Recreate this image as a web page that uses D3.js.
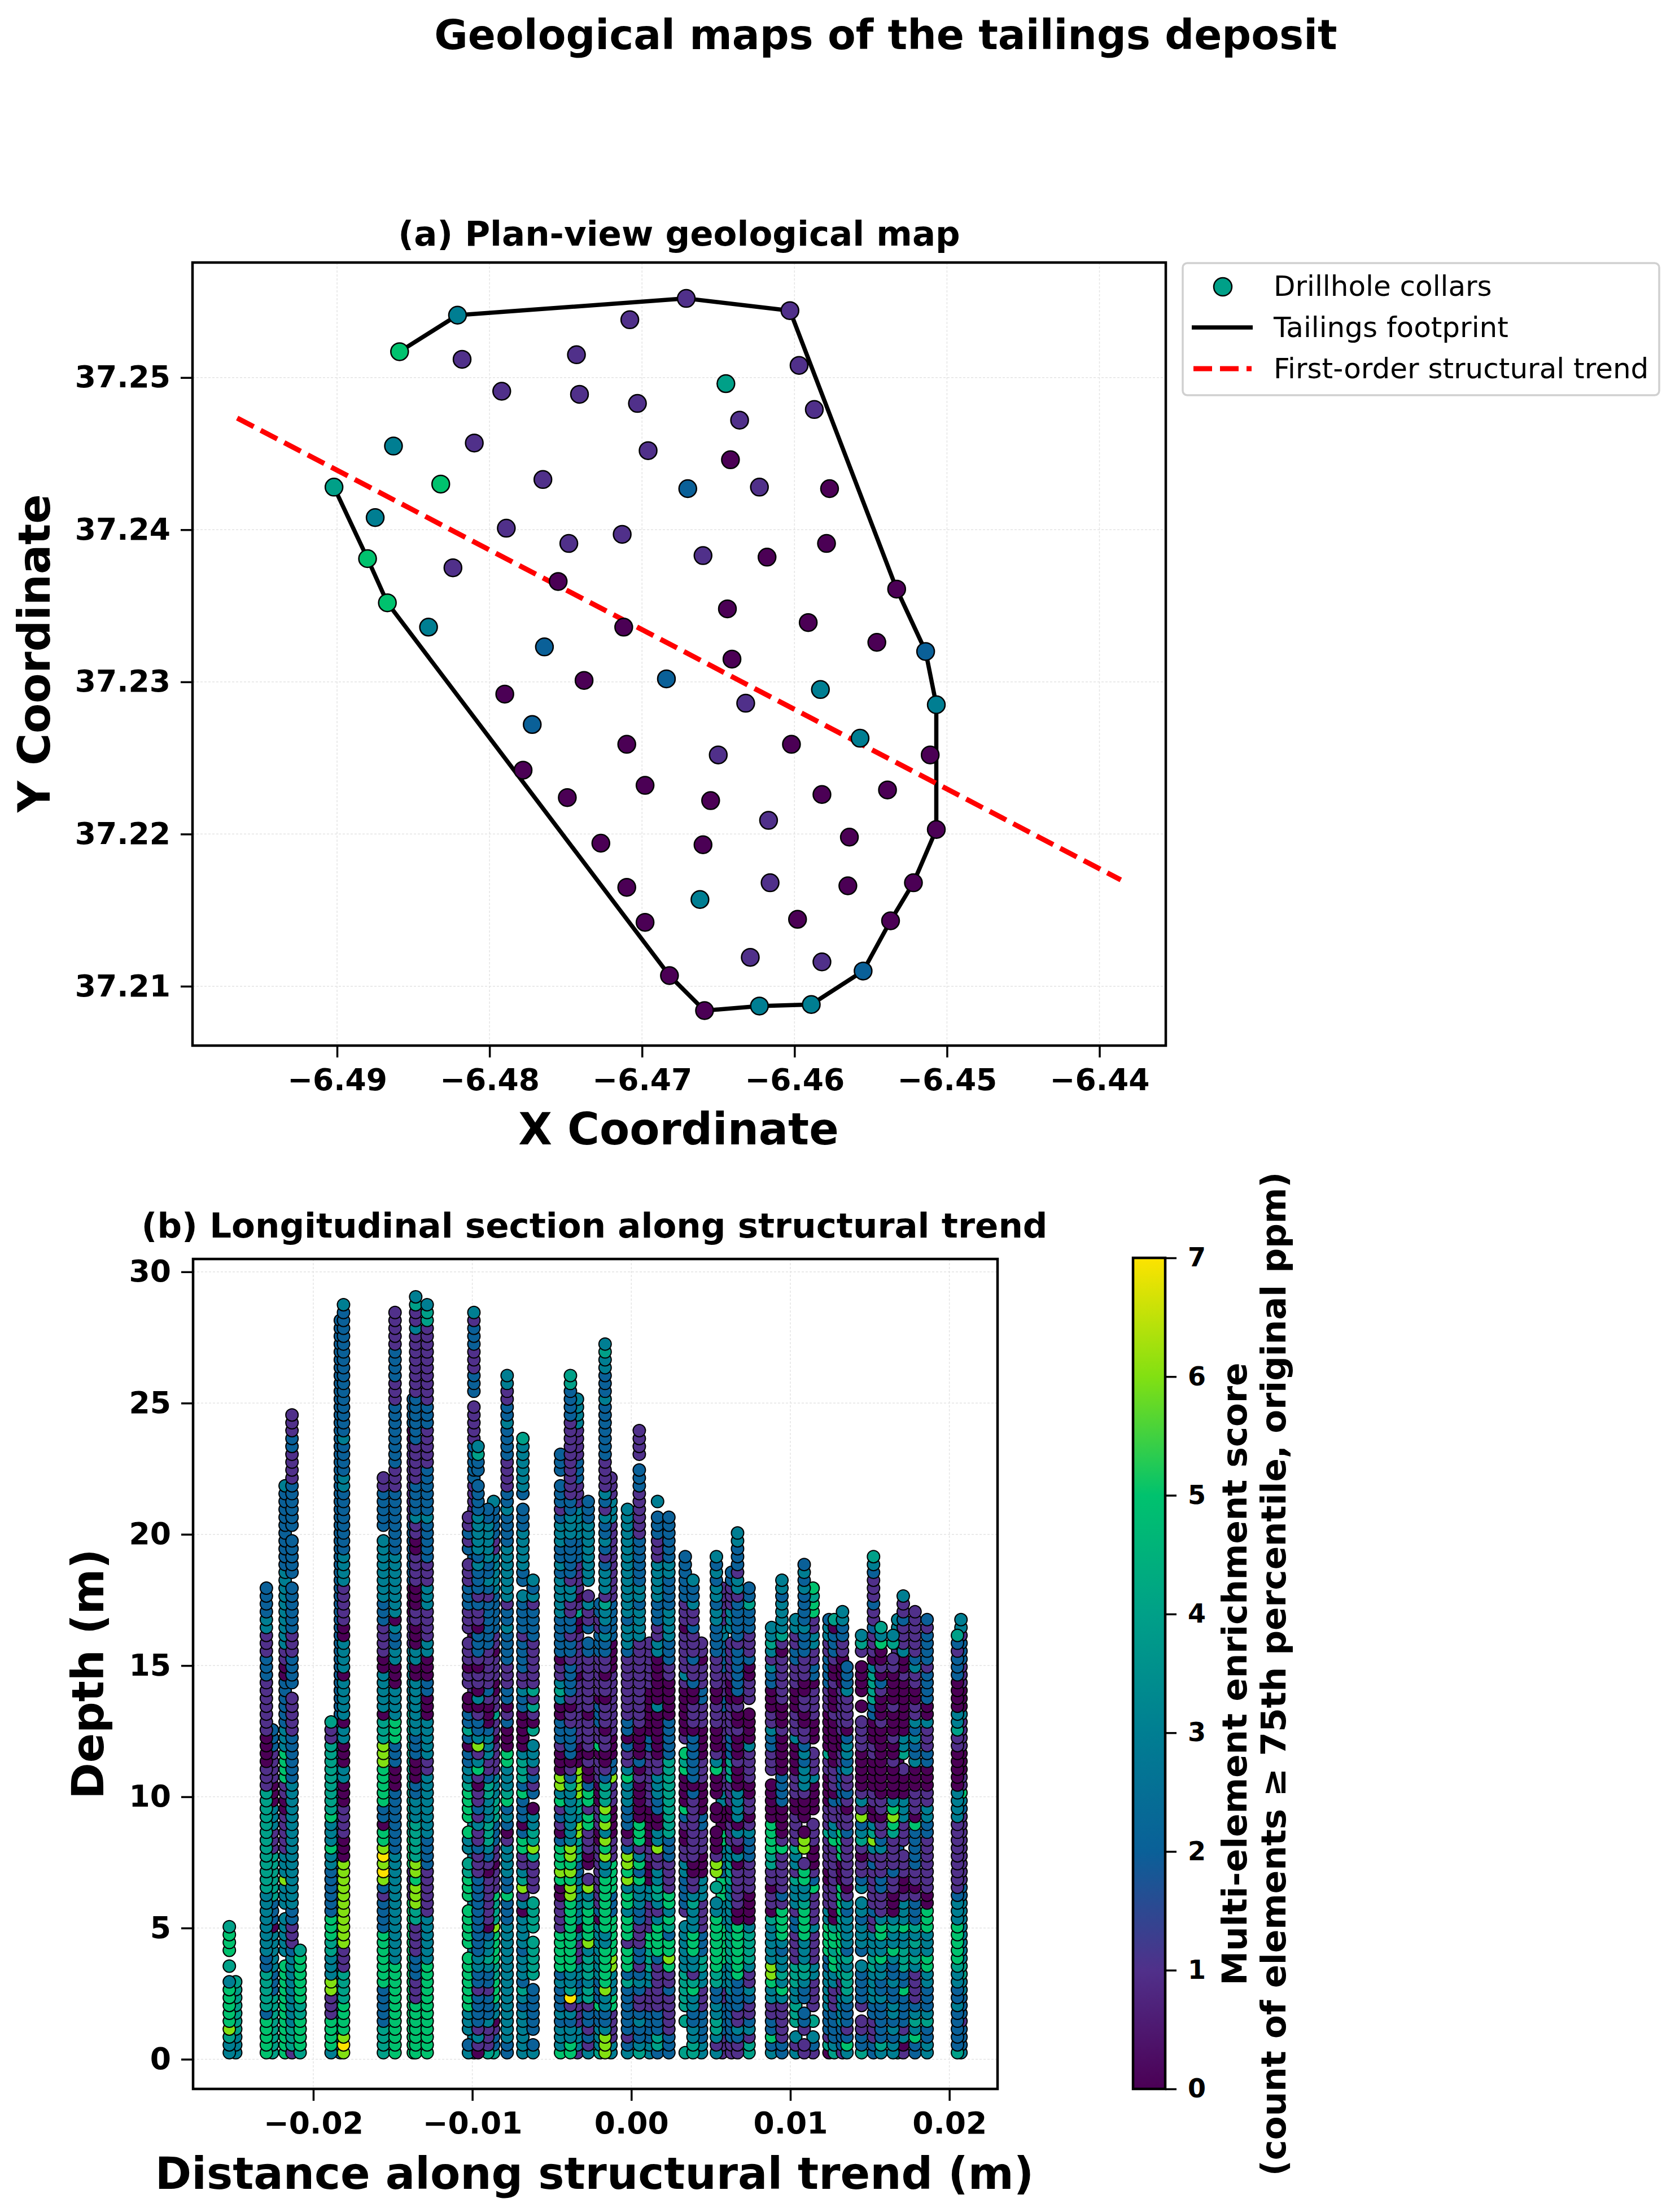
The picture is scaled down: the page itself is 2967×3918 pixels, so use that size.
<!DOCTYPE html>
<html>
<head>
<meta charset="utf-8">
<script src="https://cdnjs.cloudflare.com/ajax/libs/d3/7.8.5/d3.min.js"></script>
<style>
    html, body { margin: 0; padding: 0; background: #fff; }
    text { font-family: "DejaVu Sans", sans-serif; fill: #000; }
</style>
</head>
<body>
<script>
const footprintX = [-6.4902, -6.4880, -6.4867, -6.4682, -6.4659, -6.4623, -6.4589, -6.4555, -6.4537, -6.4522, -6.4507, -6.4507, -6.4514, -6.4533, -6.4603, -6.4671, -6.4821, -6.4859];
const footprintY = [37.2428, 37.2381, 37.2352, 37.2107, 37.2084, 37.2087, 37.2088, 37.2110, 37.2143, 37.2168, 37.2203, 37.2285, 37.2320, 37.2361, 37.2544, 37.2552, 37.2541, 37.2517];
const footprintScore = [4, 5, 5, 0, 0, 3, 3, 2, 0, 0, 0, 3, 2, 0, 1, 1, 3, 5];

const collarX = [-6.4818, -6.4743, -6.4708, -6.4792, -6.4741, -6.4703, -6.4645, -6.4597, -6.4587, -6.4636, -6.4863, -6.4810, -6.4696, -6.4642, -6.4832, -6.4765, -6.4670, -6.4623, -6.4577, -6.4875, -6.4789, -6.4713, -6.4748, -6.4579, -6.4660, -6.4618, -6.4824, -6.4755, -6.4644, -6.4591, -6.4712, -6.4840, -6.4546, -6.4764, -6.4641, -6.4738, -6.4684, -6.4583, -6.4790, -6.4632, -6.4772, -6.4557, -6.4710, -6.4602, -6.4650, -6.4511, -6.4778, -6.4698, -6.4539, -6.4582, -6.4749, -6.4655, -6.4617, -6.4564, -6.4727, -6.4660, -6.4616, -6.4565, -6.4710, -6.4662, -6.4698, -6.4598, -6.4629, -6.4582];
const collarY = [37.2512, 37.2515, 37.2538, 37.2491, 37.2489, 37.2483, 37.2496, 37.2508, 37.2479, 37.2472, 37.2455, 37.2457, 37.2452, 37.2446, 37.2430, 37.2433, 37.2427, 37.2428, 37.2427, 37.2408, 37.2401, 37.2397, 37.2391, 37.2391, 37.2383, 37.2382, 37.2375, 37.2366, 37.2348, 37.2339, 37.2336, 37.2336, 37.2326, 37.2323, 37.2315, 37.2301, 37.2302, 37.2295, 37.2292, 37.2286, 37.2272, 37.2263, 37.2259, 37.2259, 37.2252, 37.2252, 37.2242, 37.2232, 37.2229, 37.2226, 37.2224, 37.2222, 37.2209, 37.2198, 37.2194, 37.2193, 37.2168, 37.2166, 37.2165, 37.2157, 37.2142, 37.2144, 37.2119, 37.2116];
const collarScore = [1, 1, 1, 1, 1, 1, 4, 1, 1, 1, 3, 1, 1, 0, 5, 1, 2, 1, 0, 3, 1, 1, 1, 0, 1, 0, 1, 0, 0, 0, 0, 3, 0, 2, 0, 0, 2, 3, 0, 1, 2, 3, 0, 0, 1, 0, 0, 0, 0, 0, 0, 0, 1, 0, 0, 0, 1, 0, 0, 3, 0, 0, 1, 1];

const trendX = [-6.49655, -6.4386];
const trendY = [37.24734, 37.21699];

const xTicksA = [-6.49, -6.48, -6.47, -6.46, -6.45, -6.44];
const yTicksA = [37.21, 37.22, 37.23, 37.24, 37.25];
const xTicksB = [-0.02, -0.01, 0, 0.01, 0.02];
const yTicksB = [0, 5, 10, 15, 20, 25, 30];
const scoreTicks = [0, 1, 2, 3, 4, 5, 6, 7];
const scoreColors = ["#4b0055", "#50308a", "#0a6098", "#007e92", "#00a088", "#00c26e", "#82e012", "#fde300"];

// one entry per drillhole, drawn back to front. Scores run from the top sample
// down the hole, read bottom up: "5*3" is three samples of score 5, "-" no sample
const holeDistance = [
    -0.02488, -0.02528, -0.02257, -0.02295, -0.02177, -0.02134, -0.02083, -0.0183, -0.01888, -0.0181,
    -0.01559, -0.01486, -0.01371, -0.01356, -0.01284, -0.0099, -0.01024, -0.00866, -0.00902, -0.00964,
    -0.00781, -0.00682, -0.00618, -0.00339, -0.00445, -0.00383, -0.00271, -0.00128, -0.00197, -0.00165,
    0.00114, -0.00024, 0.0005, 0.00165, 0.00236, 0.00441, 0.00339, 0.00388, 0.00572, 0.00535,
    0.0063, 0.0074, 0.00668, 0.01034, 0.01143, 0.00882, 0.00947, 0.01087, 0.01243, 0.01276,
    0.01328, 0.01356, 0.01448, 0.01523, 0.01675, 0.0157, 0.0171, 0.01646, 0.01784, 0.0186,
    0.02073, 0.02051
];
const holeScores = [
    "3*3 4*7",
    "3*2 4 6 5*5 3 - 4 - 5*3 4",
    "4*8 2*3 3*5 0 2*3 4*6 1*3 3*3 0*3 1*4 2*3",
    "5*5 2 4*5 2*2 3*2 3*6 4*13 1*3 0*4 1*3 1*4 2*3 1*3 3*2 2*4",
    "5*12 - 3*5 - 3*3 6 3*3 1*5 0*2 1*2 5*4 3*3 2*6 0*2 1*2 3*7 3*3 2*10 3",
    "1 4*3 3*9 2 1*3 2*2 3*7 3*9 2*6 1*5 - 2*4 1*3 2*6 - 2*5 - 2*6 1*4 2*2 1*3",
    "4 5*4 4*2 5*6 4",
    "2*94",
    "3 5*4 1*3 6*2 3*3 4*2 5*3 2*6 3*2 5 3*3 5 4*9 1*2 4",
    "6 7 6 5*4 4*4 1*3 6*11 0*3 1*4 0*3 3*2 0*3 3*2 0 3*5 0 3*4 0*2 1*5 3*4 2*8 3*2 2*4 3 2*16 3",
    "4*4 2*5 5*7 2*4 1 2 6 7 6 7 6 5*2 0 2*2 5*5 6*3 4*3 0 3*5 0*2 1*4 2*3 3*8 - 2*5 1*2",
    "5*12 3*14 2*4 2*4 0*3 2*3 5*3 3*4 0*3 3*2 2*2 3 0 3*8 2*8 1*3 2*8 1*3 2*4 1*2 1*3",
    "5*20 1*4 5*4 4*16 3*8 1*4 0*4 2*8 1*10 0*2 2*4",
    "5*7 1*3 2*3 1*4 4*2 6*3 5 6*2 4*5 3*3 2*2 0*3 2*3 3*3 3*4 0*2 3*2 0 0*2 1*2 0*3 1*4 0*2 1*2 3 2*4 1*5 2*6 1*8 3 1*2 4 3",
    "5*12 3*6 1*6 2*4 3*2 3*6 1*2 3*5 0*3 2*2 0*3 3*2 1*4 3*3 1*3 2*5 3 2*6 1*5 2*3 1*10 4*2 3",
    "3*30 1*20 0*4 2*14 1*5 2*5 1*5 - 2*3 1*3 2*3 1 3",
    "3 2 - 3*3 5*7 - 5*5 - 5*3 4*2 - 3*2 5 - 5*4 4 3*2 2*2 0 2 4 2*2 0*2 - 1*2 0 1*3 - 1*3 2*3 1*3 - 2 1 2 1*2",
    "4 2*2 1 0 3*2 5*3 4*2 5*4 6 4*3 5 1*3 0 1*2 2*3 4*3 3*3 1*4 0 1*2 4 1*2 0*2 1*3 0 1*2 2*5 3*5 1*2 2*2 2*2 3",
    "4 1*3 3 2*3 1 2*2 3 4 3*2 2 0 1*6 0 1 2 3 4*3 3*3 4*2 2 1*2 3*3 2 0*3 1 2 1*5 2*6 1 2 3 2*2 3*5 2*2",
    "0 1 3 1 2*4 1 2*2 3*2 2*10 1*3 2 1*2 3 1 2 1*2 0 1 5 3 1 6 3 2*2 1 0 3 0 1*2 0 1 2*3 0 1*2 2 1 2*3 3 2 3*5 2*4 - 2*2 4 3",
    "2*2 3*15 2*3 5 2*2 3*4 1 0 2 3 2 5 4 3*3 5*2 0*3 2 1 0 2*2 1*3 2*4 3 2*2 1 3*7 2*4 3 2*2 1*4 2*4 3 2*2 1*2 3*2",
    "3*6 2 3 4 2 3*3 2 3*4 0 3 1 6 4 3 1*2 5*2 2 0 2*3 5 2 4*3 3 0*5 2*2 3 1*2 2*4 1 2*4 3 - 2*2 3*5 2*3 - 2 3*6 4",
    "3 2 - 2*6 - 4*5 - 4*4 - 1*4 4 6 4*2 3*2 0 - 2 1 2 1 3*3 - 4 0 1 4 1 4 1*6 2*4 1 3 2 3",
    "1 3*3 1*3 3 2*2 3*2 1*3 3 0 3*6 2*2 4*3 6*2 3 4*2 6*4 0*3 1*8 0 1*5 0*2 4 1 0 1*4 2*3 3*4 1*3 2*3 1*4 3*4",
    "5 3*3 2 3 2*3 3 2 5*5 1*4 0*2 5 6 5*3 2 0 1 2 1 5 3 6*2 0*3 1 2*3 0*2 3 4 3 1*2 0 2*5 3*5 2 3 2*2 3*3 2 1 2*3 - 2*3",
    "5*2 3*2 2 3 1 7 4 3*2 5*9 6*2 5 6 5 6*2 3*7 4 2 1 0 2*4 1*2 0 1 2*4 1 2*2 1 2*2 1*2 3*2 1 2*5 3*3 2*2 1*10 2*4 4*2",
    "3 1 2 1 2*2 1 4*2 3 4*3 3 6 5*4 4 3 6 1 - 0*2 1*3 5*2 1 5*2 2 0*2 1 0 1*4 0 1*7 2*2 - 2 1*2 3 1 - 3*8 2*3",
    "3*2 1*4 5*2 3*3 6*2 5*5 2*3 5*4 1*3 0*4 1*3 6 2*2 0*3 1*8 0*4 2*5 1*10 3*3 1*3",
    "4 3*3 2*2 5 2*3 3*4 3*3 0 2 1*4 1*4 0*2 1*3 0*3 1*3 0 5 1*2 2*3 0 1*5 2*3 1*2 2*2",
    "6*3 3 2*2 3*2 6 5*5 3*2 5*7 3*2 6 5 6 3 6 5 6 4*3 2 1 0*2 1*2 0 1*3 0 1*2 0 1*2 2*2 3 2 3*2 4 1 3*3 2 1 2 3 2*2 3 1 2 3 1*4 2*7 3 2*3 3*2 4 3",
    "3*2 2*4 1*3 3*2 4*3 5*2 1*4 3*2 0*3 1*2 0*5 1*7 2*2 0*6 1*6",
    "3 2 1 2*6 4 2 5*3 1 5*3 3 5*2 3 6 5 6*2 2 1 0 2*3 3*3 5 3 1*2 2 0 2*2 1*8 2 3*3 2 3*14",
    "4 3 2*2 3 2 1*2 2 3 2 1 2*2 1*3 2*2 3*3 5 2 5 3 1 5*3 0*5 1 0 2 0*4 1*11 3*4 2 3*2 2*6 1*6 2*3 - 1*4",
    "2 4*2 2*3 1*6 2 5*4 3 1 3 4*2 3*2 1*2 6 3*2 0*2 2*2 3*3 1*2 0*6 3 0*6 3*2 1*2 2*3 3*5 1*3 2*3 - 3",
    "2*3 1*5 2 1*2 5 6 5*2 2 4 5 3 5*2 1*4 2*3 4*10 2*5 0*5 1*2 2*3 3*4 2*4 3*2 2*6",
    "3*2 2*4 1*3 3*2 4*2 2*3 1*4 3*3 0*3 1*3 2*2 0*4 1*3 0*4 1*3 2*2 1*3 0 1*2",
    "4 - - - 4 - 4*5 3*6 - 1 2*4 3*2 1*2 0*2 1 2 5 0*4 5 4 5 - 1 0*6 1 3 1*5 0 1*3 2*6",
    "4*2 3*2 2*2 3*2 5 4 1 3*2 5*3 3*3 4 3 1*2 0*2 1*8 2 0 2*6 0 1*3 0*2 2 1*2 2 1*3 2 1*2 3 2*2 3",
    "1*3 2*4 1*2 3*3 5*5 3*3 5*3 2*2 3*2 5*2 0*3 3*2 1*3 0*3 1*4 2*2 1*3 2*4 3*2 1*5",
    "3 1 3 4*2 3*2 2*2 4*2 5*7 3*2 - 4 - 6*2 1 0*3 - 0*2 - 0*3 5 3 1 0*3 1*3 0*2 1*3 1 2*4 3*2 2 3*2 2 3 2 3",
    "1*2 2*6 3*4 4*4 3*6 4*3 3*2 1*3 0*2 1*3 4*3 2*3 1*4 0*3 1*3 1*2 - 3*3 1*3 2*2",
    "4*2 1 3 2 1*2 2 3 1*2 3 4*4 3 0*4 1*4 2*3 3 1 0 1*2 0*2 1*4 3 0*4 - 1*3 0*2 2 1*3 2*3 4 2*2",
    "1*2 2 3 1*2 2*4 5*7 0*2 1*5 0 3 0 1 3 0 3*4 0*3 1 0*3 1 0*2 1 0 2*6 1 2*5 1 3*2 1 2*3 3*2",
    "3 1 3 - 4*3 3*2 4*3 1*4 2*2 1 3*3 4 1 3*2 4 1*4 0*2 1*3 0*4 3 1*3 0*3 1*3 2*2 1*2 3*2",
    "1 2 3 - 4 - 1*4 3*2 1*4 3 1*4 5 2 1 0*3 1*3 - 0*4 3 1*3 - 0*3 1*4 0 2*2 1*2 3*2 1*2 5*2 4 5",
    "3 2 5 2*2 1*2 3*2 5 6*2 3*5 4 0 1*2 0 1*2 4*2 5*4 0*5 - 1*3 2*2 3 1*2 0*3 2*2 3 1 3 4 3*2",
    "2*2 1*5 3 5 3 4 3*2 2 3 5*4 1 2 1*5 5 1 0*4 2*4 0*5 1 0*3 1*6 0 1 4 3*4 2 3*2",
    "1*2 - 1 2*2 - 2*2 3 4*2 3*3 5*4 4 3*2 5*2 1 - 6*2 0 - 0*3 1 3*3 2 3 2 1*2 0*2 1*2 0*2 1*3 2*3 3 2*4 3 2 3 2",
    "0 4 1 2*3 3*5 2*2 5*4 3*2 1*3 0*2 1*4 4 1*3 0*4 1*2 4 0*5 1*3 2*4 1*2 3*2 2",
    "4 3 2*4 1*3 3*2 5*2 4 5*2 4 0*2 1*8 5 3*2 1*2 2 0 1*3 0*6 1 0*3 1 0*2 1 2*3 0 4",
    "1 2*3 3*4 1*2 4*3 5*3 4*2 5*4 0*3 5*4 1*3 2*5 1*2 0*2 1*6 0*4 1*2 2*2 3*2",
    "3 5 2 1 2*3 3 4*3 3 4 2 3*4 2 3 1 0 1*6 2 1*2 0 1 2 1*2 3 2 3*2 2 0 1*4 3 2 2*2",
    "4 2*2 1*2 - 1 2*4 3 - 2 3*3 2 3*2 - 3 2 1*2 0 1 4 3 2 6 1 3 1 0*5 1*4 - 0 - 0*4 - 1 4 3",
    "2*2 1*3 2*2 3*4 4*2 3*3 1*2 2 1*5 2 1 3 6 4 3 0*2 1*2 0*4 1*2 0*3 2*2 4*4 3 0 1*3 2 1*2 2 1*3 2 3 4",
    "4 2*6 5 3*3 2*3 5*4 3*2 0*2 1*4 2*3 1*2 3*2 1*3 0*3 1*5 3*2 0*4 1*3 3*2 3",
    "3 4 2*5 3 2*2 3*2 5 3*2 5*2 3 1*3 2*2 1*3 3 2 1*2 0 1*2 0*9 1 0*3 1 2 0 1 0*2 5 3 4",
    "1 0 3 1 2*4 5 2*2 4*3 3*2 5 3*3 1 0*2 1*3 - 1*3 3*3 0*3 1 - 4 3*2 0*7 1 0*2 3 1*3 2 1*2 3",
    "3*2 2 3 2 3*2 2*2 3 2*2 3 5 3*2 4 3 0*3 1*2 2 1*4 4 5 6 5 3 0*4 1 0*2 1 0*3 1 0*4 1*2 - 4 3",
    "2*2 5 3 4 3 2 1*4 3 4 3 4 3 4 2*3 1 0 1*2 2*5 5 0 1*3 0*3 3 2*2 3 2 3 1*2 0*2 1*2 3 2 1*6",
    "3*2 2*2 4 3 2*3 3*2 5*2 3*3 5*3 0*2 1*7 2*2 3*2 1*2 0*3 2*2 1*3 3 0*2 2*4 1 2*4 1 2",
    "3 2*3 1 2*3 3*2 4*2 3*8 2*2 1*9 2 3 5 1*2 0*3 1*4 3 0*3 1*3 2*3 1 3*2",
    "4 2*5 3 2*2 3*2 4 5*5 3*3 2 1*9 3*4 0*5 1*2 4 3*2 0*4 2*3 1 2 4"
];

// samples are logged every 0.3 m starting just under the collar
const firstDepth = 0.25;
const depthStep = 0.3;

const samples = holeScores.flatMap((runs, h) => {
    let out = [];
    runs.split(" ").forEach(run => {
        const [s, n] = run.split("*");
        for (let k = 0; k < (n === undefined ? 1 : +n); k++) out.push(s);
    });
    return out.map((s, i) => ({distance: holeDistance[h], depth: firstDepth + depthStep * i, score: s}))
        .filter(d => d.score !== "-")
        .map(d => ({...d, score: +d.score}));
});

const color = d3.scaleLinear().domain(scoreTicks).range(scoreColors);

const svg = d3.select("body").append("svg")
    .attr("width", 2967)
    .attr("height", 3918);

svg.append("text")
    .attr("x", 1569)
    .attr("y", 87)
    .attr("text-anchor", "middle")
    .attr("font-size", 72.5)
    .attr("font-weight", "bold")
    .text("Geological maps of the tailings deposit");

function panel(x, y, xTicks, yTicks, yFormat) {
    const [x0, x1] = x.range();
    const [y1, y0] = y.range();
    const g = svg.append("g");

    g.append("g").selectAll("line").data(xTicks).join("line")
        .attr("x1", d => x(d)).attr("x2", d => x(d))
        .attr("y1", y0).attr("y2", y1)
        .attr("stroke", "#e4e4e4").attr("stroke-width", 1.5).attr("stroke-dasharray", "4 3");
    g.append("g").selectAll("line").data(yTicks).join("line")
        .attr("x1", x0).attr("x2", x1)
        .attr("y1", d => y(d)).attr("y2", d => y(d))
        .attr("stroke", "#e4e4e4").attr("stroke-width", 1.5).attr("stroke-dasharray", "4 3");

    const bottom = g.append("g")
        .attr("transform", `translate(0,${y1})`)
        .call(d3.axisBottom(x).tickValues(xTicks).tickFormat(d3.format(".2f")).tickSize(21).tickPadding(20));
    const left = g.append("g")
        .attr("transform", `translate(${x0},0)`)
        .call(d3.axisLeft(y).tickValues(yTicks).tickFormat(yFormat).tickSize(21).tickPadding(18));

    [bottom, left].forEach(axis => {
        axis.select(".domain").remove();
        axis.selectAll("line").attr("stroke", "#000").attr("stroke-width", 3.5);
        axis.selectAll("text")
            .attr("font-size", 53.5)
            .attr("font-weight", "bold")
            .attr("font-family", "DejaVu Sans");
    });
    return g;
}

function frame(x, y) {
    svg.append("rect")
        .attr("x", x.range()[0])
        .attr("y", y.range()[1])
        .attr("width", x.range()[1] - x.range()[0])
        .attr("height", y.range()[0] - y.range()[1])
        .attr("fill", "none")
        .attr("stroke", "#000")
        .attr("stroke-width", 4.5);
}

function label(x, y, size, text, rotate) {
    svg.append("text")
        .attr("transform", `translate(${x},${y})` + (rotate ? " rotate(-90)" : ""))
        .attr("text-anchor", "middle")
        .attr("font-size", size)
        .attr("font-weight", "bold")
        .text(text);
}

// (a) plan view
const xA = d3.scaleLinear().domain([-6.49948, -6.43565]).range([341, 2065]);
const yA = d3.scaleLinear().domain([37.2061, 37.25756]).range([1852, 465]);

panel(xA, yA, xTicksA, yTicksA, d3.format(".2f"));

const line = d3.line().x(d => xA(d[0])).y(d => yA(d[1]));

svg.append("path")
    .attr("d", line(d3.zip(footprintX, footprintY)))
    .attr("fill", "none")
    .attr("stroke", "#000")
    .attr("stroke-width", 7.5)
    .attr("stroke-linejoin", "round");

svg.append("path")
    .attr("d", line(d3.zip(trendX, trendY)))
    .attr("fill", "none")
    .attr("stroke", "#ff0000")
    .attr("stroke-width", 9)
    .attr("stroke-dasharray", "33 14");

const collars = d3.zip(collarX.concat(footprintX), collarY.concat(footprintY), collarScore.concat(footprintScore));

svg.append("g").selectAll("circle")
    .data(collars)
    .join("circle")
    .attr("cx", d => xA(d[0]))
    .attr("cy", d => yA(d[1]))
    .attr("r", 15.5)
    .attr("fill", d => color(d[2]))
    .attr("stroke", "#000")
    .attr("stroke-width", 2.5);

frame(xA, yA);
label(1203, 435, 61, "(a) Plan-view geological map");
label(1202, 2027, 77.5, "X Coordinate");
label(88, 1157, 77.5, "Y Coordinate", true);

// legend
const legend = svg.append("g");
legend.append("rect")
    .attr("x", 2095).attr("y", 466)
    .attr("width", 844).attr("height", 234)
    .attr("rx", 8)
    .attr("fill", "#fff")
    .attr("stroke", "#d0d0d0")
    .attr("stroke-width", 3.5);
legend.append("circle")
    .attr("cx", 2166).attr("cy", 508)
    .attr("r", 16)
    .attr("fill", color(4))
    .attr("stroke", "#000")
    .attr("stroke-width", 2.5);
legend.append("line")
    .attr("x1", 2111).attr("x2", 2219).attr("y1", 580).attr("y2", 580)
    .attr("stroke", "#000").attr("stroke-width", 7.5);
legend.append("line")
    .attr("x1", 2114).attr("x2", 2217).attr("y1", 653).attr("y2", 653)
    .attr("stroke", "#ff0000").attr("stroke-width", 9).attr("stroke-dasharray", "33 14");
legend.selectAll("text")
    .data([["Drillhole collars", 524], ["Tailings footprint", 597], ["First-order structural trend", 670]])
    .join("text")
    .attr("x", 2256)
    .attr("y", d => d[1])
    .attr("font-size", 50)
    .text(d => d[0]);

// (b) longitudinal section
const xB = d3.scaleLinear().domain([-0.02756, 0.02303]).range([342, 1767]);
const yB = d3.scaleLinear().domain([-1.13, 30.49]).range([3700, 2230]);

panel(xB, yB, xTicksB, yTicksB, d3.format("d"));

svg.append("g").selectAll("circle")
    .data(samples)
    .join("circle")
    .attr("cx", d => xB(d.distance))
    .attr("cy", d => yB(d.depth))
    .attr("r", 11)
    .attr("fill", d => color(d.score))
    .attr("stroke", "#000")
    .attr("stroke-width", 2);

frame(xB, yB);
label(1053, 2192, 61, "(b) Longitudinal section along structural trend");
label(1053, 3877, 77.7, "Distance along structural trend (m)");
label(183, 2965, 77.5, "Depth (m)", true);

// colorbar
const yC = d3.scaleLinear().domain([0, 7]).range([3700, 2228]);
const gradient = svg.append("defs").append("linearGradient")
    .attr("id", "score-gradient")
    .attr("x1", 0).attr("x2", 0).attr("y1", 1).attr("y2", 0);
gradient.selectAll("stop")
    .data(scoreTicks)
    .join("stop")
    .attr("offset", d => d / 7)
    .attr("stop-color", d => color(d));

svg.append("rect")
    .attr("x", 2007).attr("y", yC(7))
    .attr("width", 57).attr("height", yC(0) - yC(7))
    .attr("fill", "url(#score-gradient)")
    .attr("stroke", "#000")
    .attr("stroke-width", 4.5);

const axisC = svg.append("g")
    .attr("transform", "translate(2064,0)")
    .call(d3.axisRight(yC).tickValues(scoreTicks).tickFormat(d3.format("d")).tickSize(20).tickPadding(20));
axisC.select(".domain").remove();
axisC.selectAll("line").attr("stroke", "#000").attr("stroke-width", 3.5);
axisC.selectAll("text").attr("font-size", 46).attr("font-weight", "bold").attr("font-family", "DejaVu Sans");

label(2208, 2965, 61, "Multi-element enrichment score", true);
label(2277, 2965, 61, "(count of elements ≥ 75th percentile, original ppm)", true);
</script>
</body>
</html>
